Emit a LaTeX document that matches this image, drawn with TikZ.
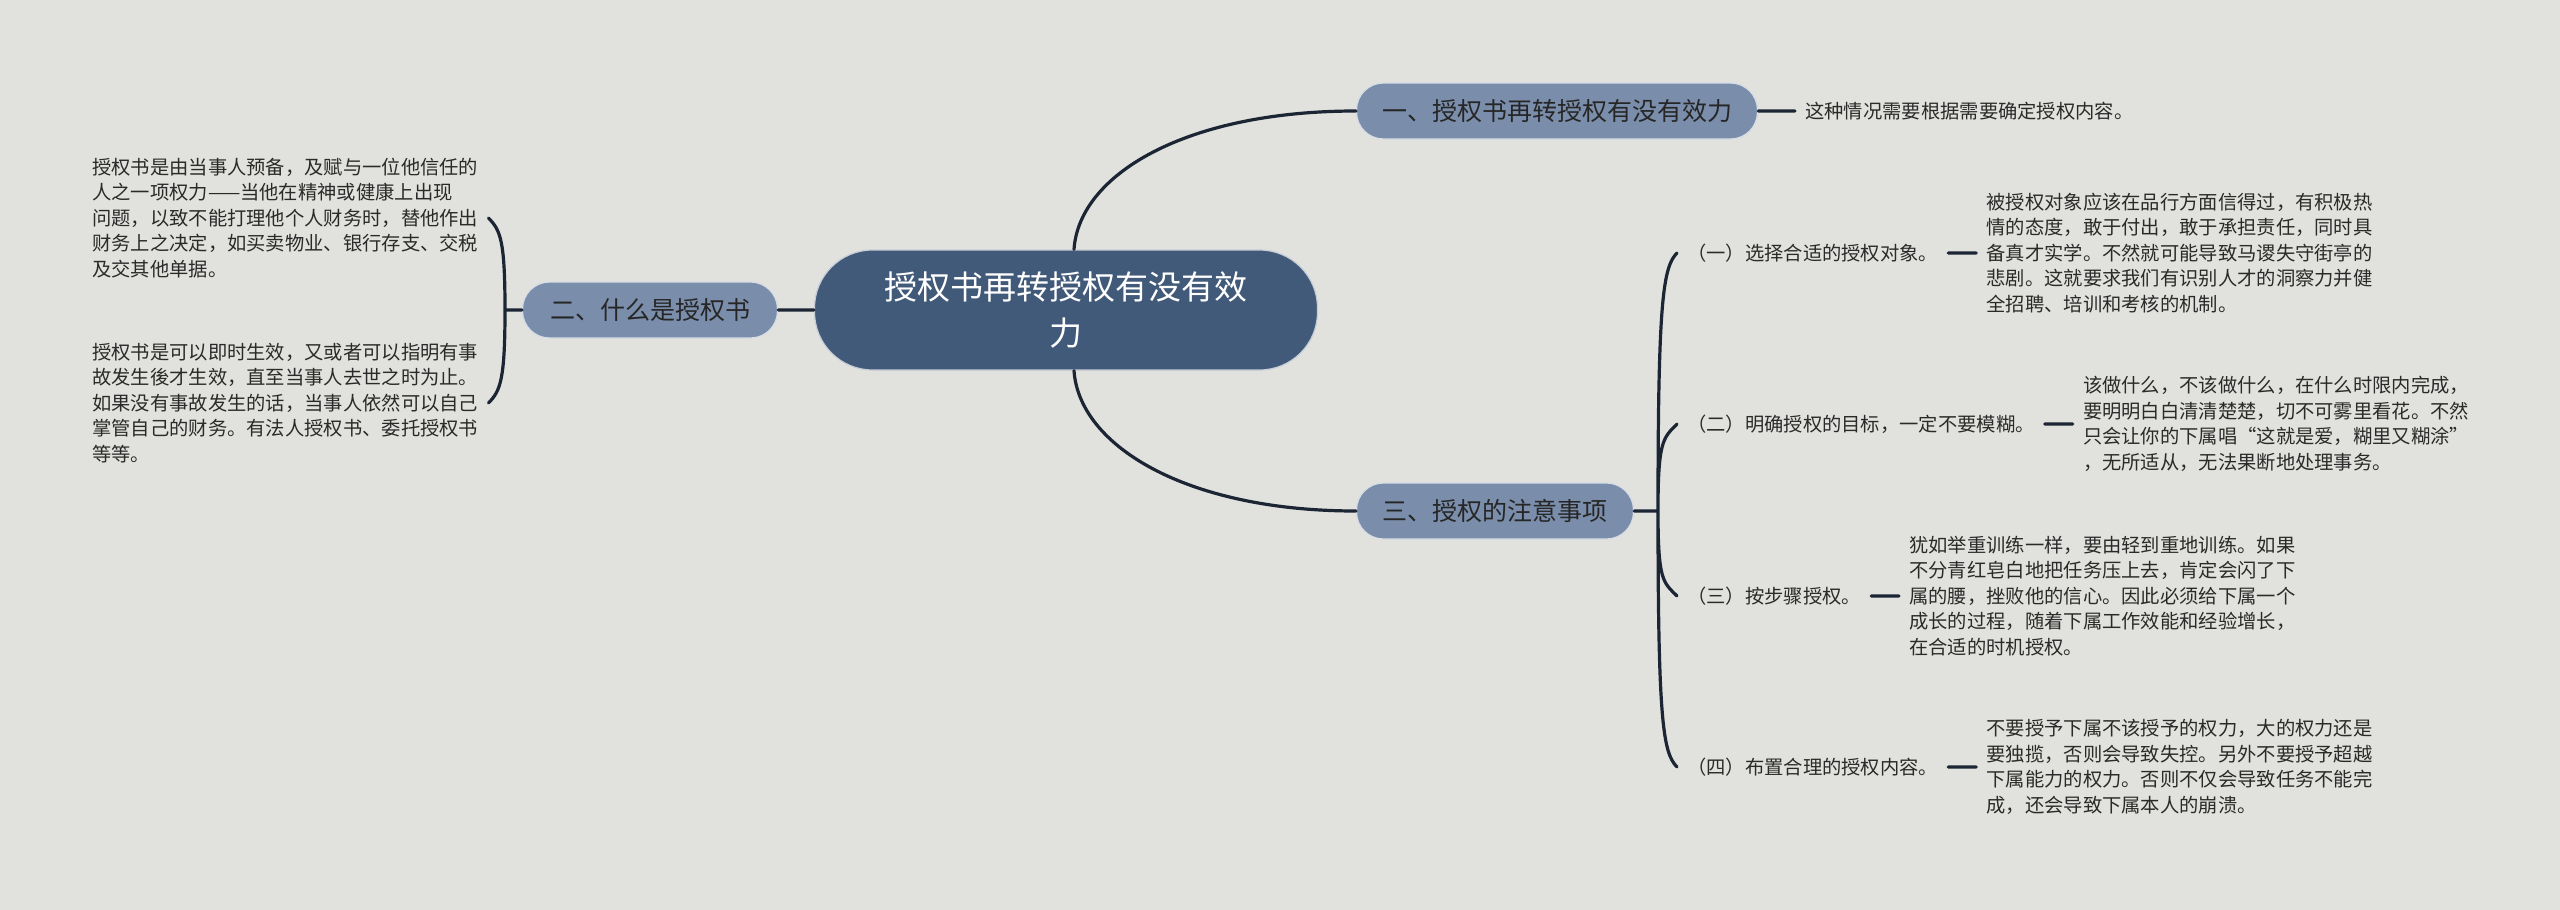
\documentclass[tikz,border=0pt]{standalone}
\usepackage{fontspec}
\setmainfont{Noto Sans CJK SC}
\usepackage{tikz}
\usetikzlibrary{positioning}

\definecolor{paper}{HTML}{E1E2DD}
\definecolor{rootblue}{HTML}{425A79}
\definecolor{topicblue}{HTML}{7A8DAA}
\definecolor{wire}{HTML}{1C2533}
\definecolor{ink}{HTML}{2A2A2A}

\begin{document}
\begin{tikzpicture}[x=1pt, y=-1pt,
    root node/.style={fill=rootblue, draw=white!70!rootblue, line width=1.2pt,
      rounded corners=58pt, minimum width=503pt, minimum height=120pt,
      align=center, text=white, font=\fontsize{33}{46}\selectfont},
    topic node/.style={fill=topicblue, draw=white!70!topicblue, line width=1.2pt,
      rounded corners=27pt, minimum height=56pt, text=ink!90!black,
      font=\fontsize{25}{30}\selectfont},
    label node/.style={inner xsep=10pt, inner ysep=2pt, text=ink,
      font=\fontsize{19.3}{25.5}\selectfont},
    text node/.style={inner xsep=10pt, inner ysep=2pt, align=left, text=ink,
      font=\fontsize{19.3}{25.5}\selectfont},
    wire line/.style={draw=wire, line width=3.2pt, line cap=round}]

  \fill[paper] (0,0) rectangle (2560,910);

  % main nodes
  \node[root node] (root) at (1066,310) {授权书再转授权有没有效\\力};
  \node[topic node, minimum width=401pt] (one) at (1557,111) {一、授权书再转授权有没有效力};
  \node[topic node, minimum width=255pt] (two) at (650,310) {二、什么是授权书};
  \node[topic node, minimum width=277pt] (three) at (1495,511) {三、授权的注意事项};

  % one
  \node[text node, right=37pt of one] (oneA) {这种情况需要根据需要确定授权内容。};

  % two
  \coordinate (twoJ) at (505,310);
  \node[text node, anchor=west] (twoA) at (82,218) {授权书是由当事人预备，及赋与一位他信任的\\人之一项权力——当他在精神或健康上出现\\问题，以致不能打理他个人财务时，替他作出\\财务上之决定，如买卖物业、银行存支、交税\\及交其他单据。};
  \node[text node, anchor=west] (twoB) at (82,403) {授权书是可以即时生效，又或者可以指明有事\\故发生後才生效，直至当事人去世之时为止。\\如果没有事故发生的话，当事人依然可以自己\\掌管自己的财务。有法人授权书、委托授权书\\等等。};

  % three
  \coordinate (threeJ) at (1658,511);
  \node[label node, anchor=west] (s1) at (1677,253) {（一）选择合适的授权对象。};
  \node[label node, anchor=west] (s2) at (1677,424) {（二）明确授权的目标，一定不要模糊。};
  \node[label node, anchor=west] (s3) at (1677,596) {（三）按步骤授权。};
  \node[label node, anchor=west] (s4) at (1677,767) {（四）布置合理的授权内容。};

  \node[text node, right=28pt of s1] (s1A) {被授权对象应该在品行方面信得过，有积极热\\情的态度，敢于付出，敢于承担责任，同时具\\备真才实学。不然就可能导致马谡失守街亭的\\悲剧。这就要求我们有识别人才的洞察力并健\\全招聘、培训和考核的机制。};
  \node[text node, right=28pt of s2] (s2A) {该做什么，不该做什么，在什么时限内完成，\\要明明白白清清楚楚，切不可雾里看花。不然\\只会让你的下属唱“这就是爱，糊里又糊涂”\\，无所适从，无法果断地处理事务。};
  \node[text node, right=28pt of s3] (s3A) {犹如举重训练一样，要由轻到重地训练。如果\\不分青红皂白地把任务压上去，肯定会闪了下\\属的腰，挫败他的信心。因此必须给下属一个\\成长的过程，随着下属工作效能和经验增长，\\在合适的时机授权。};
  \node[text node, right=28pt of s4] (s4A) {不要授予下属不该授予的权力，大的权力还是\\要独揽，否则会导致失控。另外不要授予超越\\下属能力的权力。否则不仅会导致任务不能完\\成，还会导致下属本人的崩溃。};

  % connectors
  \path[wire line]
    ([xshift=8pt]root.north) .. controls +(5,-75) and +(-170,0) .. (one.west)
    ([xshift=8pt]root.south) .. controls +(5,75) and +(-170,0) .. (three.west)
    (root.west) -- (two.east)
    (one.east) -- (oneA.west)
    (two.west) -- (twoJ)
    (twoJ) .. controls +(0,-70) and +(12,12) .. (twoA.east)
    (twoJ) .. controls +(0,70) and +(12,-12) .. (twoB.east)
    (three.east) -- (threeJ)
    (threeJ) .. controls +(0,-210) and +(-14,14) .. (s1.west)
    (threeJ) .. controls +(0,-70) and +(-14,14) .. (s2.west)
    (threeJ) .. controls +(0,70) and +(-14,-14) .. (s3.west)
    (threeJ) .. controls +(0,210) and +(-14,-14) .. (s4.west)
    (s1.east) -- (s1A.west)
    (s2.east) -- (s2A.west)
    (s3.east) -- (s3A.west)
    (s4.east) -- (s4A.west);
\end{tikzpicture}
\end{document}
